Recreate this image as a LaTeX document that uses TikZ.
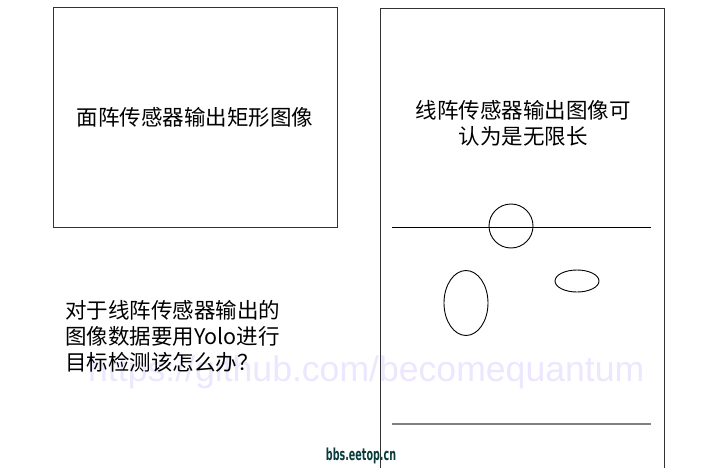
\documentclass[tikz,border=0pt]{standalone}
\usepackage{fontspec}
\usetikzlibrary{shapes.geometric}
\newfontfamily\cjk{Noto Sans CJK SC}
\newfontfamily\markfont{Liberation Sans}
\newfontfamily\eetopfont[FakeStretch=0.58,UprightFont=* Bold]{DejaVu Sans}
\definecolor{markcolor}{RGB}{236,230,255}
\definecolor{eetopcolor}{RGB}{10,60,60}
\definecolor{framecolor}{RGB}{50,50,50}

\tikzset{
  frame/.style={draw=framecolor, line width=1pt},
  cjklabel/.style={font=\cjk\fontsize{21.5}{26}\selectfont, inner sep=0pt},
  blob/.style={ellipse, draw, line width=0.9pt, inner sep=0pt},
  scanline/.style={line width=1pt},
}

\begin{document}
\begin{tikzpicture}[x=1pt,y=-1pt]
\useasboundingbox (0,0) rectangle (720,468);

\node[font=\markfont\fontsize{35.6}{36}\selectfont, text=markcolor, inner sep=0pt, anchor=base west] (watermark) at (88,381) {https://github.com/becomequantum};

\node[frame, cjklabel, minimum width=284, minimum height=219] (areaimage) at (195,117.5) {面阵传感器输出矩形图像};

\draw[frame] (380,472) -- (380,8.5) -- (664,8.5) -- (664,472);
\node[cjklabel, align=center] (lineimage) at (523,123) {线阵传感器输出图像可\\认为是无限长};

\draw[scanline] (392,227.5) -- (651,227.5);
\node[blob, minimum width=44, minimum height=44] (topblob) at (511,226) {};
\node[blob, minimum width=44, minimum height=65] (tallblob) at (466,303) {};
\node[blob, minimum width=44, minimum height=22] (flatblob) at (577,281) {};
\draw[scanline, draw=gray, line width=1.6pt] (392,424) -- (651,424);

\node[cjklabel, align=left, anchor=west] (question) at (65,336) {对于线阵传感器输出的\\图像数据要用Yolo进行\\目标检测该怎么办？};

\node[font=\eetopfont\fontsize{16.5}{16.5}\selectfont, text=eetopcolor, inner sep=0pt] (eetop) at (361,456) {bbs.eetop.cn};
\end{tikzpicture}
\end{document}
